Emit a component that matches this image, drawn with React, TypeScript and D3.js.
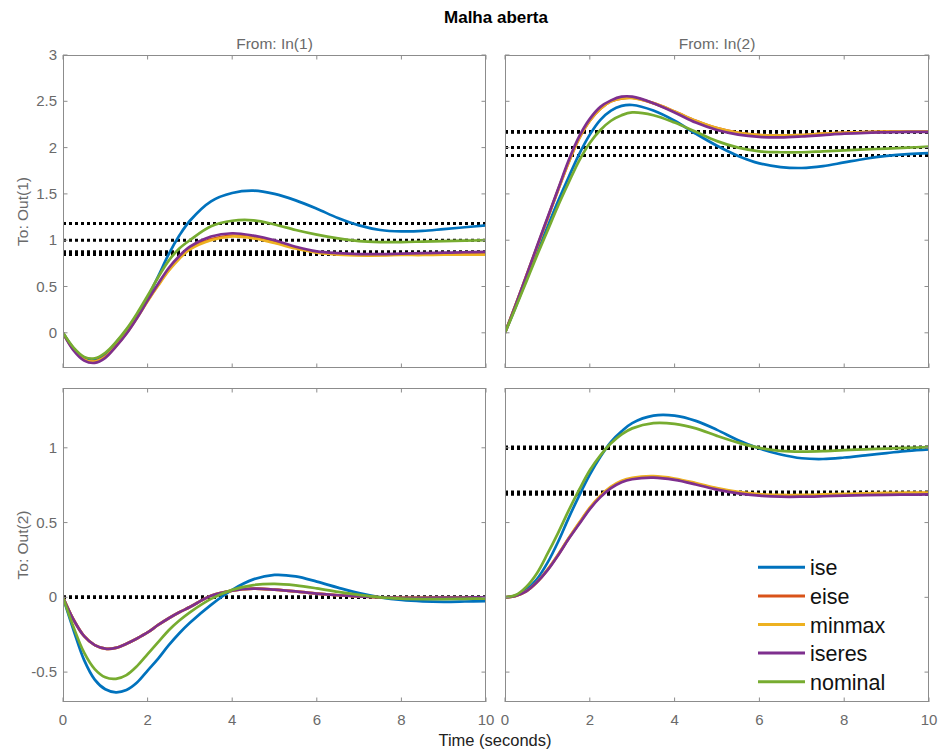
import React from 'react';
import * as d3 from 'd3';

// ---------------- data ----------------
const TIME = [0, 0.25, 0.5, 0.75, 1, 1.25, 1.5, 1.75, 2, 2.25, 2.5, 2.75, 3, 3.5, 4, 4.5, 5, 5.5, 6, 6.5, 7, 7.5, 8, 8.5, 9, 9.5, 10];

const SERIES = ['ise', 'eise', 'minmax', 'iseres', 'nominal'];
const COLORS = ['#0072BD', '#D95319', '#EDB120', '#7E2F8E', '#77AC30'];

const TITLE = 'Malha aberta';
const COL_TITLES = ['From: In(1)', 'From: In(2)'];
const ROW_TITLES = ['To: Out(1)', 'To: Out(2)'];
const X_LABEL = 'Time (seconds)';
const X_TICKS = [0, 2, 4, 6, 8, 10];
const Y_TICKS_ROW1 = [0, 0.5, 1, 1.5, 2, 2.5, 3];
const Y_TICK_LABELS_ROW1 = ['0', '0.5', '1', '1.5', '2', '2.5', '3'];
const Y_TICKS_ROW2 = [-0.5, 0, 0.5, 1];
const Y_TICK_LABELS_ROW2 = ['-0.5', '0', '0.5', '1'];
const Y_DOMAIN_ROW1 = [-0.38, 3];
const Y_DOMAIN_ROW2 = [-0.7, 1.4];

// Out(1) <- In(1)
const O1I1_ISE = [0, -0.17, -0.27, -0.29, -0.23, -0.11, 0.03, 0.19, 0.38, 0.61, 0.85, 1.05, 1.21, 1.42, 1.51, 1.535, 1.5, 1.43, 1.34, 1.24, 1.16, 1.11, 1.095, 1.1, 1.12, 1.14, 1.16];
const O1I1_EISE = [0, -0.18, -0.29, -0.31, -0.255, -0.14, 0.0, 0.17, 0.35, 0.52, 0.68, 0.81, 0.91, 1.01, 1.05, 1.03, 0.98, 0.92, 0.87, 0.85, 0.84, 0.84, 0.845, 0.85, 0.85, 0.855, 0.855];
const O1I1_MINMAX = [0, -0.18, -0.29, -0.31, -0.26, -0.145, -0.005, 0.16, 0.34, 0.51, 0.67, 0.8, 0.9, 1.0, 1.04, 1.02, 0.97, 0.91, 0.865, 0.845, 0.835, 0.835, 0.84, 0.84, 0.845, 0.845, 0.845];
const O1I1_ISERES = [0, -0.19, -0.3, -0.325, -0.27, -0.15, -0.01, 0.16, 0.35, 0.53, 0.7, 0.83, 0.93, 1.04, 1.075, 1.05, 1.0, 0.93, 0.88, 0.86, 0.85, 0.85, 0.855, 0.86, 0.865, 0.87, 0.873];
const O1I1_NOMINAL = [0, -0.16, -0.26, -0.275, -0.215, -0.1, 0.04, 0.21, 0.4, 0.6, 0.78, 0.91, 1.0, 1.15, 1.21, 1.215, 1.17, 1.11, 1.06, 1.02, 0.99, 0.98, 0.98, 0.985, 0.99, 0.995, 1.0];

// Out(1) <- In(2)
const O1I2_ISE = [0, 0.28, 0.57, 0.86, 1.14, 1.42, 1.68, 1.93, 2.14, 2.3, 2.4, 2.45, 2.46, 2.4, 2.29, 2.15, 2.02, 1.91, 1.83, 1.79, 1.78, 1.8, 1.84, 1.88, 1.91, 1.93, 1.94];
const O1I2_EISE = [0, 0.3, 0.61, 0.92, 1.23, 1.54, 1.84, 2.1, 2.29, 2.42, 2.5, 2.53, 2.54, 2.48, 2.39, 2.29, 2.21, 2.16, 2.135, 2.13, 2.135, 2.15, 2.16, 2.168, 2.172, 2.175, 2.176];
const O1I2_MINMAX = [0, 0.3, 0.61, 0.92, 1.23, 1.54, 1.84, 2.1, 2.29, 2.42, 2.5, 2.53, 2.535, 2.48, 2.39, 2.29, 2.21, 2.16, 2.135, 2.13, 2.135, 2.15, 2.16, 2.168, 2.172, 2.175, 2.176];
const O1I2_ISERES = [0, 0.3, 0.61, 0.93, 1.24, 1.55, 1.86, 2.12, 2.31, 2.44, 2.51, 2.55, 2.55, 2.48, 2.38, 2.27, 2.19, 2.14, 2.115, 2.11, 2.12, 2.135, 2.15, 2.16, 2.165, 2.17, 2.17];
const O1I2_NOMINAL = [0, 0.27, 0.55, 0.83, 1.1, 1.37, 1.62, 1.86, 2.05, 2.19, 2.29, 2.35, 2.38, 2.35, 2.27, 2.17, 2.07, 2.0, 1.96, 1.95, 1.95, 1.96, 1.97, 1.98, 1.99, 2.0, 2.01];

// Out(2) <- In(1)
const O2I1_ISE = [0, -0.22, -0.42, -0.55, -0.615, -0.635, -0.62, -0.57, -0.49, -0.41, -0.32, -0.24, -0.17, -0.05, 0.05, 0.12, 0.15, 0.14, 0.105, 0.065, 0.028, 0.0, -0.018, -0.027, -0.03, -0.028, -0.025];
const O2I1_EISE = [0, -0.15, -0.26, -0.32, -0.343, -0.338, -0.31, -0.275, -0.235, -0.185, -0.14, -0.1, -0.065, 0.01, 0.045, 0.058, 0.052, 0.04, 0.025, 0.014, 0.006, 0.0, -0.003, -0.003, -0.002, -0.001, 0];
const O2I1_MINMAX = [0, -0.15, -0.26, -0.32, -0.343, -0.338, -0.31, -0.275, -0.235, -0.185, -0.14, -0.1, -0.065, 0.01, 0.045, 0.058, 0.052, 0.04, 0.025, 0.014, 0.006, 0.0, -0.003, -0.003, -0.002, -0.001, 0];
const O2I1_ISERES = [0, -0.15, -0.26, -0.32, -0.343, -0.338, -0.31, -0.275, -0.235, -0.185, -0.14, -0.1, -0.065, 0.01, 0.045, 0.058, 0.052, 0.04, 0.025, 0.014, 0.006, 0.0, -0.003, -0.003, -0.002, -0.001, 0];
const O2I1_NOMINAL = [0, -0.2, -0.37, -0.48, -0.535, -0.545, -0.52, -0.46, -0.38, -0.3, -0.22, -0.155, -0.1, -0.01, 0.05, 0.082, 0.09, 0.08, 0.06, 0.036, 0.016, 0.0, -0.009, -0.012, -0.012, -0.01, -0.008];

// Out(2) <- In(2)
const O2I2_ISE = [0, 0.01, 0.05, 0.12, 0.23, 0.37, 0.53, 0.68, 0.82, 0.94, 1.04, 1.11, 1.165, 1.215, 1.215, 1.18, 1.12, 1.05, 0.995, 0.955, 0.93, 0.925, 0.935, 0.95, 0.965, 0.98, 0.99];
const O2I2_EISE = [0, 0.01, 0.04, 0.1, 0.183, 0.283, 0.393, 0.495, 0.595, 0.675, 0.735, 0.775, 0.795, 0.805, 0.79, 0.76, 0.725, 0.7, 0.685, 0.68, 0.68, 0.683, 0.688, 0.691, 0.694, 0.696, 0.697];
const O2I2_MINMAX = [0, 0.01, 0.04, 0.1, 0.185, 0.285, 0.395, 0.5, 0.6, 0.68, 0.74, 0.78, 0.8, 0.81, 0.795, 0.765, 0.73, 0.705, 0.69, 0.685, 0.685, 0.688, 0.692, 0.695, 0.698, 0.7, 0.7];
const O2I2_ISERES = [0, 0.01, 0.04, 0.1, 0.18, 0.28, 0.39, 0.49, 0.59, 0.67, 0.73, 0.77, 0.79, 0.8, 0.785, 0.755, 0.72, 0.695, 0.68, 0.673, 0.673, 0.676, 0.68, 0.683, 0.685, 0.687, 0.688];
const O2I2_NOMINAL = [0, 0.015, 0.07, 0.16, 0.29, 0.43, 0.58, 0.72, 0.85, 0.95, 1.03, 1.09, 1.13, 1.165, 1.16, 1.13, 1.08, 1.035, 1.0, 0.98, 0.975, 0.978, 0.985, 0.99, 0.995, 1.0, 1.005];

// steady-state (dotted) levels, per series
const SS_O1I1 = [1.18, 0.855, 0.845, 0.875, 1.0];
const SS_O1I2 = [1.915, 2.17, 2.175, 2.165, 2.0];
const SS_O2I1 = [0, 0, 0, 0, 0];
const SS_O2I2 = [0.995, 0.7, 0.705, 0.69, 1.005];

// ---------------- layout ----------------
const W = 939;
const H = 752;
const COLS = [[63, 486], [505, 929]];
const ROWS = [[55, 368], [388, 702]];
const FONT = '"Liberation Sans", Arial, Helvetica, sans-serif';
const AXIS_COLOR = '#8c8c8c';
const LABEL_COLOR = '#6a6a6a';
const TICK_LEN = 4.5;

const PANELS = [
  { row: 0, col: 0, data: [O1I1_ISE, O1I1_EISE, O1I1_MINMAX, O1I1_ISERES, O1I1_NOMINAL], ss: SS_O1I1 },
  { row: 0, col: 1, data: [O1I2_ISE, O1I2_EISE, O1I2_MINMAX, O1I2_ISERES, O1I2_NOMINAL], ss: SS_O1I2 },
  { row: 1, col: 0, data: [O2I1_ISE, O2I1_EISE, O2I1_MINMAX, O2I1_ISERES, O2I1_NOMINAL], ss: SS_O2I1 },
  { row: 1, col: 1, data: [O2I2_ISE, O2I2_EISE, O2I2_MINMAX, O2I2_ISERES, O2I2_NOMINAL], ss: SS_O2I2 },
];

function Panel({ p }: { p: any }) {
  const [x0, x1] = COLS[p.col];
  const [y0, y1] = ROWS[p.row];
  const x = d3.scaleLinear().domain([0, 10]).range([x0, x1]);
  const y = d3.scaleLinear().domain(p.row === 0 ? Y_DOMAIN_ROW1 : Y_DOMAIN_ROW2).range([y1, y0]);
  const yTicks = p.row === 0 ? Y_TICKS_ROW1 : Y_TICKS_ROW2;
  const yLabels = p.row === 0 ? Y_TICK_LABELS_ROW1 : Y_TICK_LABELS_ROW2;
  const line = d3
    .line<number>()
    .x((_, i) => x(TIME[i]))
    .y((v) => y(v))
    .curve(d3.curveCatmullRom.alpha(0.5));
  const clipId = `clip-${p.row}-${p.col}`;
  return (
    <g>
      <defs>
        <clipPath id={clipId}>
          <rect x={x0} y={y0} width={x1 - x0} height={y1 - y0} />
        </clipPath>
      </defs>
      <rect x={x0} y={y0} width={x1 - x0} height={y1 - y0} fill="#fff" />
      <g clipPath={`url(#${clipId})`}>
        {p.ss.map((v: number, i: number) => (
          <line key={'ss' + i} x1={x0} x2={x1} y1={y(v)} y2={y(v)} stroke="#000" strokeWidth={3} strokeDasharray="3 3" />
        ))}
        {p.data.map((s: number[], i: number) => (
          <path key={'s' + i} d={line(s) || ''} fill="none" stroke={COLORS[i]} strokeWidth={2.7} strokeLinejoin="round" />
        ))}
      </g>
      {X_TICKS.map((t) => (
        <g key={'xt' + t}>
          <line x1={x(t)} x2={x(t)} y1={y1} y2={y1 - TICK_LEN} stroke={AXIS_COLOR} />
          <line x1={x(t)} x2={x(t)} y1={y0} y2={y0 + TICK_LEN} stroke={AXIS_COLOR} />
        </g>
      ))}
      {yTicks.map((t) => (
        <g key={'yt' + t}>
          <line x1={x0} x2={x0 + TICK_LEN} y1={y(t)} y2={y(t)} stroke={AXIS_COLOR} />
          <line x1={x1} x2={x1 - TICK_LEN} y1={y(t)} y2={y(t)} stroke={AXIS_COLOR} />
        </g>
      ))}
      <rect x={x0 + 0.5} y={y0 + 0.5} width={x1 - x0 - 1} height={y1 - y0 - 1} fill="none" stroke={AXIS_COLOR} strokeWidth={1} />
      {p.col === 0 &&
        yTicks.map((t, i) => (
          <text key={'yl' + t} x={x0 - 6} y={y(t) + 5} textAnchor="end" fontSize={15} fill={LABEL_COLOR} fontFamily={FONT}>
            {yLabels[i]}
          </text>
        ))}
      {p.row === 1 &&
        X_TICKS.map((t) => (
          <text key={'xl' + t} x={x(t)} y={725} textAnchor="middle" fontSize={15} fill={LABEL_COLOR} fontFamily={FONT}>
            {String(t)}
          </text>
        ))}
    </g>
  );
}

export default function App() {
  const legendX0 = 758;
  const legendX1 = 805;
  const legendY0 = 567.3;
  const legendDy = 28.6;
  return (
    <svg width={W} height={H} style={{ position: 'absolute', left: 0, top: 0, background: '#fff' }} fontFamily={FONT}>
      <rect x={0} y={0} width={W} height={H} fill="#fff" />
      {PANELS.map((p, i) => (
        <Panel key={i} p={p} />
      ))}
      <text x={496} y={23} textAnchor="middle" fontSize={17} fontWeight="bold" fill="#000">
        {TITLE}
      </text>
      {COL_TITLES.map((t, i) => (
        <text key={t} x={(COLS[i][0] + COLS[i][1]) / 2} y={48.5} textAnchor="middle" fontSize={15.5} fill={LABEL_COLOR}>
          {t}
        </text>
      ))}
      {ROW_TITLES.map((t, i) => (
        <text
          key={t}
          transform={`translate(27.5, ${(ROWS[i][0] + ROWS[i][1]) / 2}) rotate(-90)`}
          textAnchor="middle"
          fontSize={15.5}
          fill={LABEL_COLOR}
        >
          {t}
        </text>
      ))}
      <text x={495} y={746} textAnchor="middle" fontSize={16.5} fill="#222">
        {X_LABEL}
      </text>
      {SERIES.map((s, i) => (
        <g key={s}>
          <line x1={legendX0} x2={legendX1} y1={legendY0 + i * legendDy} y2={legendY0 + i * legendDy} stroke={COLORS[i]} strokeWidth={3} />
          <text x={legendX1 + 5} y={legendY0 + i * legendDy + 8} fontSize={21.5} fill="#111">
            {s}
          </text>
        </g>
      ))}
    </svg>
  );
}
